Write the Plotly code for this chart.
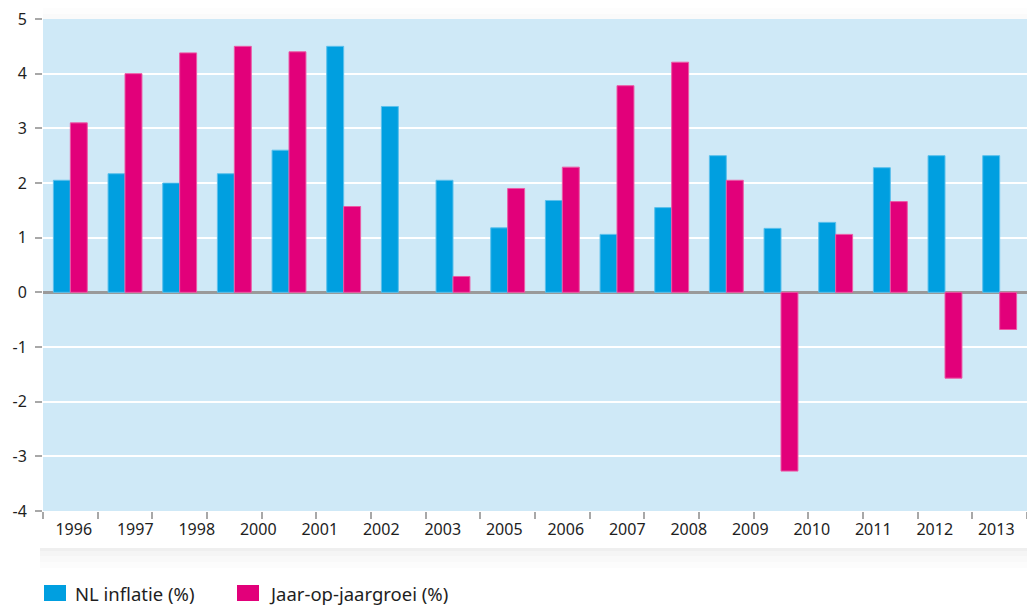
import plotly.graph_objects as go

# ---- data ----
year_labels = ["1996", "1997", "1998", "2000", "2001", "2002", "2003", "2005",
               "2006", "2007", "2008", "2009", "2010", "2011", "2012", "2013"]
bar_groups = list(range(18))
nl_inflatie = [2.05, 2.17, 2.0, 2.17, 2.6, 4.5, 3.4, 2.05, 1.18, 1.68,
               1.06, 1.55, 2.5, 1.17, 1.28, 2.28, 2.5, 2.5]
jaar_groei = [3.1, 4.0, 4.38, 4.5, 4.4, 1.57, None, 0.29, 1.9, 2.29,
              3.78, 4.21, 2.05, -3.27, 1.06, 1.66, -1.57, -0.68]
y_tick_vals = [-4, -3, -2, -1, 0, 1, 2, 3, 4, 5]
y_tick_text = ["-4", "-3", "-2", "-1", "0", "1", "2", "3", "4", "5"]
series_names = ["NL inflatie (%)", "Jaar-op-jaargroei (%)"]

BLUE = "#009fe0"
MAGENTA = "#e2007a"
BG = "#cfe9f7"
FONT = "Noto Sans"
TXT = "#1e1e1e"

W, H = 1027, 605
L, R, T, B = 43, 0, 19, 94


def px(x):
    return (x - L) / (W - L - R)


def py(y):
    return (H - B - y) / (H - B - T)


fig = go.Figure()
fig.add_trace(go.Bar(x=bar_groups, y=nl_inflatie, name=series_names[0],
                     marker=dict(color=BLUE, line=dict(color="#5cc0ec", width=1)),
                     showlegend=False))
fig.add_trace(go.Bar(x=bar_groups, y=jaar_groei, name=series_names[1],
                     marker=dict(color=MAGENTA, line=dict(color="#ec5aa6", width=1)),
                     showlegend=False))
# helper trace so the label axis is rendered
fig.add_trace(go.Scatter(x=[0], y=[None], xaxis="x2", showlegend=False,
                         hoverinfo="skip", mode="markers"))

n = len(bar_groups)
m = len(year_labels)
fig.update_layout(
    width=W, height=H,
    margin=dict(l=L, r=R, t=T, b=B, pad=0),
    paper_bgcolor="white",
    plot_bgcolor=BG,
    barmode="group",
    bargap=0.38,
    bargroupgap=0,
    font=dict(family=FONT, color=TXT, size=16),
    xaxis=dict(range=[-0.5, n - 0.5], tickmode="array",
               tickvals=[i - 0.5 for i in range(n + 1)],
               ticktext=["" for _ in range(n + 1)],
               ticks="outside", ticklen=7, tickwidth=1.5, tickcolor="#a8a8a8",
               showgrid=False, zeroline=False, showline=False),
    xaxis2=dict(overlaying="x", anchor="y", side="bottom",
                range=[-0.5, m - 0.5], tickmode="array",
                tickvals=list(range(m)), ticktext=year_labels,
                ticks="outside", ticklen=4, tickcolor="rgba(0,0,0,0)",
                tickfont=dict(size=16, color=TXT, family=FONT),
                showgrid=False, zeroline=False, showline=False),
    yaxis=dict(range=[-4, 5], tickmode="array", tickvals=y_tick_vals,
               ticktext=y_tick_text, ticks="outside", ticklen=7, tickwidth=1.5,
               tickcolor="#a8a8a8", ticklabelstandoff=5,
               tickfont=dict(size=16, color=TXT, family=FONT),
               showgrid=True, gridcolor="white", gridwidth=2,
               zeroline=True, zerolinecolor="#9a9a9a", zerolinewidth=2.5,
               showline=False),
)

shapes = []
# soft shadow below the label band
for y0, y1, a in [(548, 568, 0.010), (548, 562, 0.012), (548, 556, 0.016), (548, 551, 0.022)]:
    shapes.append(dict(type="rect", xref="paper", yref="paper",
                       x0=px(40), x1=px(1027), y0=py(y1), y1=py(y0),
                       fillcolor=f"rgba(0,0,0,{a})", line=dict(width=0), layer="below"))
# faint shadow on top of plot area
for y0, y1, a in [(8, 19, 0.008), (14, 19, 0.010)]:
    shapes.append(dict(type="rect", xref="paper", yref="paper",
                       x0=px(43), x1=px(1027), y0=py(y1), y1=py(y0),
                       fillcolor=f"rgba(0,0,0,{a})", line=dict(width=0), layer="below"))
# legend swatches
shapes.append(dict(type="rect", xref="paper", yref="paper",
                   x0=px(44), x1=px(66), y0=py(601), y1=py(585),
                   fillcolor=BLUE, line=dict(width=0)))
shapes.append(dict(type="rect", xref="paper", yref="paper",
                   x0=px(237), x1=px(259), y0=py(601), y1=py(585),
                   fillcolor=MAGENTA, line=dict(width=0)))
fig.update_layout(shapes=shapes)

fig.update_layout(annotations=[
    dict(text=series_names[0], xref="paper", yref="paper", x=px(73), y=py(593),
         xanchor="left", yanchor="middle", showarrow=False,
         font=dict(size=18.5, color=TXT, family=FONT)),
    dict(text=series_names[1], xref="paper", yref="paper", x=px(267), y=py(593),
         xanchor="left", yanchor="middle", showarrow=False,
         font=dict(size=18.5, color=TXT, family=FONT)),
])

fig.write_html(
    "out.html",
    config={"displayModeBar": False},
    post_script="document.body.style.margin='0';document.body.style.overflow='hidden';",
)
